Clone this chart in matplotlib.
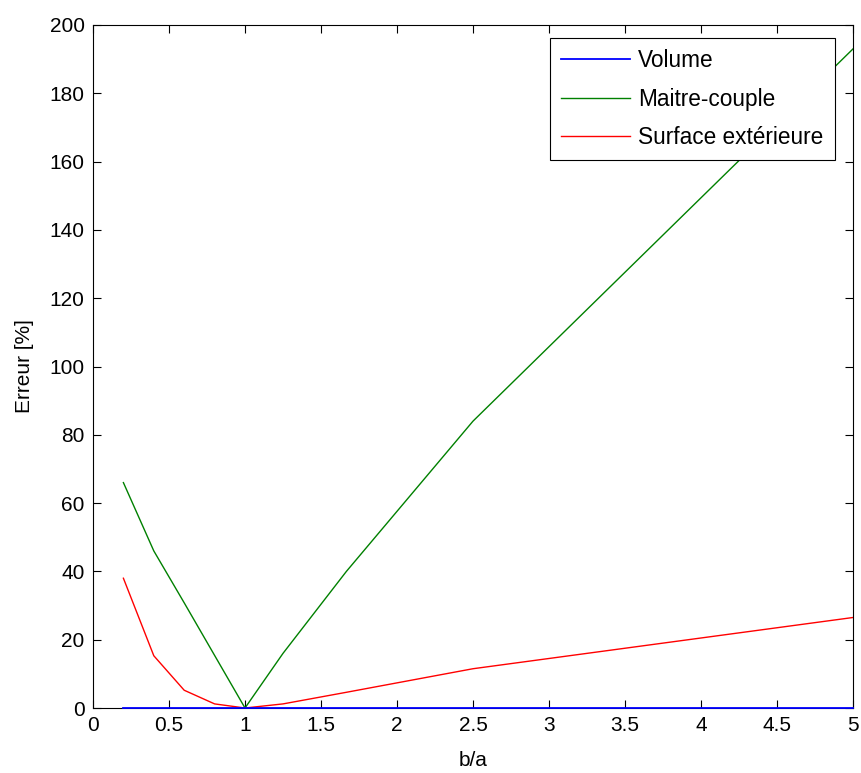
import matplotlib
matplotlib.use("Agg")
import matplotlib.pyplot as plt

# b/a ratios (oblate side then prolate side)
ratio = [0.2, 0.4, 0.6, 0.8, 1.0, 1.25, 1.667, 2.5, 5.0]
err_volume = [0, 0, 0, 0, 0, 0, 0, 0, 0]
err_maitre = [66, 46, 30.8, 15.4, 0, 16, 40, 84, 193]
err_surface = [38, 15.3, 5.2, 1.2, 0, 1.2, 4.6, 11.5, 26.5]

xticks = [0, 0.5, 1, 1.5, 2, 2.5, 3, 3.5, 4, 4.5, 5]
xticklabels = ['0', '0.5', '1', '1.5', '2', '2.5', '3', '3.5', '4', '4.5', '5']
yticks = list(range(0, 201, 20))

plt.rcParams['font.family'] = ['Liberation Sans', 'DejaVu Sans']

fig = plt.figure(figsize=(8.61, 7.73), dpi=100)
ax = fig.add_axes([93 / 861, 1 - 708 / 773, 760 / 861, 683 / 773])

ax.plot(ratio, err_volume, color='#0000ff', lw=1.3, label='Volume',
        zorder=4, clip_on=False)
ax.plot(ratio, err_maitre, color='#008000', lw=1, label='Maitre-couple')
ax.plot(ratio, err_surface, color='#ff0000', lw=1, label='Surface extérieure')

ax.set_xlim(0, 5)
ax.set_ylim(0, 200)
ax.set_xticks(xticks)
ax.set_xticklabels(xticklabels)
ax.set_yticks(yticks)
ax.tick_params(direction='in', top=True, right=True, length=6, width=0.8,
               labelsize=15, pad=6)
for s in ax.spines.values():
    s.set_linewidth(0.8)

ax.set_xlabel('b/a', fontsize=15, labelpad=11)
ax.set_ylabel('Erreur [%]', fontsize=15, labelpad=11)

leg = ax.legend(loc='upper right', bbox_to_anchor=(0.976, 0.981), fontsize=16.3,
                fancybox=False, framealpha=1, edgecolor='black',
                handlelength=3.05, borderpad=0.5, labelspacing=0.68,
                handletextpad=0.35, borderaxespad=0)
leg.get_frame().set_linewidth(0.8)

fig.savefig('out.png', dpi=100)
